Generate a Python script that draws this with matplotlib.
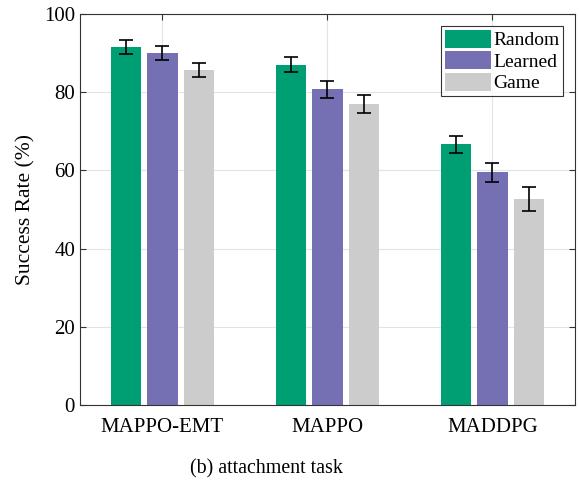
import matplotlib.pyplot as plt
import numpy as np

plt.rcParams['font.family'] = ['Liberation Serif', 'DejaVu Serif']
plt.rcParams['mathtext.fontset'] = 'stix'

methods = ['MAPPO-EMT', 'MAPPO', 'MADDPG']
series = ['Random', 'Learned', 'Game']
random_vals = [91.5, 87.0, 66.7]
learned_vals = [90.0, 80.8, 59.5]
game_vals = [85.7, 77.0, 52.7]
random_err = [1.8, 1.9, 2.1]
learned_err = [1.8, 2.2, 2.5]
game_err = [1.9, 2.3, 3.0]
colors = ['#009e73', '#7570b3', '#cccccc']

fig = plt.figure(figsize=(5.79, 4.83), dpi=100)
ax = fig.add_axes([0.138, 0.161, 0.855, 0.81])

x = np.arange(1, len(methods) + 1)
w = 0.185
step = 0.222
vals = [random_vals, learned_vals, game_vals]
errs = [random_err, learned_err, game_err]
for i in range(3):
    ax.bar(x + (i - 1) * step, vals[i], w, color=colors[i], label=series[i], zorder=2)
    ax.errorbar(x + (i - 1) * step, vals[i], yerr=errs[i], fmt='none', ecolor='black',
                elinewidth=1.2, capsize=4.7, capthick=1.2, zorder=3)

ax.set_xlim(0.5, 3.5)
ax.set_ylim(0, 100)
ax.set_xticks(x)
ax.set_xticklabels(methods, fontsize=15)
ax.set_yticks([0, 20, 40, 60, 80, 100])
ax.tick_params(axis='y', labelsize=15)
ax.tick_params(direction='in', top=True, right=True, length=4, color='#333333')
ax.tick_params(axis='x', pad=9)
ax.set_ylabel('Success Rate (%)', fontsize=15.5, labelpad=6)
ax.grid(True, color='#e3e3e3', linewidth=0.8, zorder=0)
ax.set_axisbelow(True)
for s in ax.spines.values():
    s.set_color('#333333')
    s.set_linewidth(0.8)

leg = ax.legend(loc='upper right', fontsize=14, frameon=True, fancybox=False,
                edgecolor='black', handlelength=2.4, handleheight=1.05,
                borderpad=0.2, labelspacing=0.1, handletextpad=0.1, borderaxespad=0.6)
leg.get_frame().set_linewidth(0.8)

fig.text(0.46, 0.03, '(b) attachment task', ha='center', va='center', fontsize=14.4)

fig.savefig('out.png', dpi=100)
